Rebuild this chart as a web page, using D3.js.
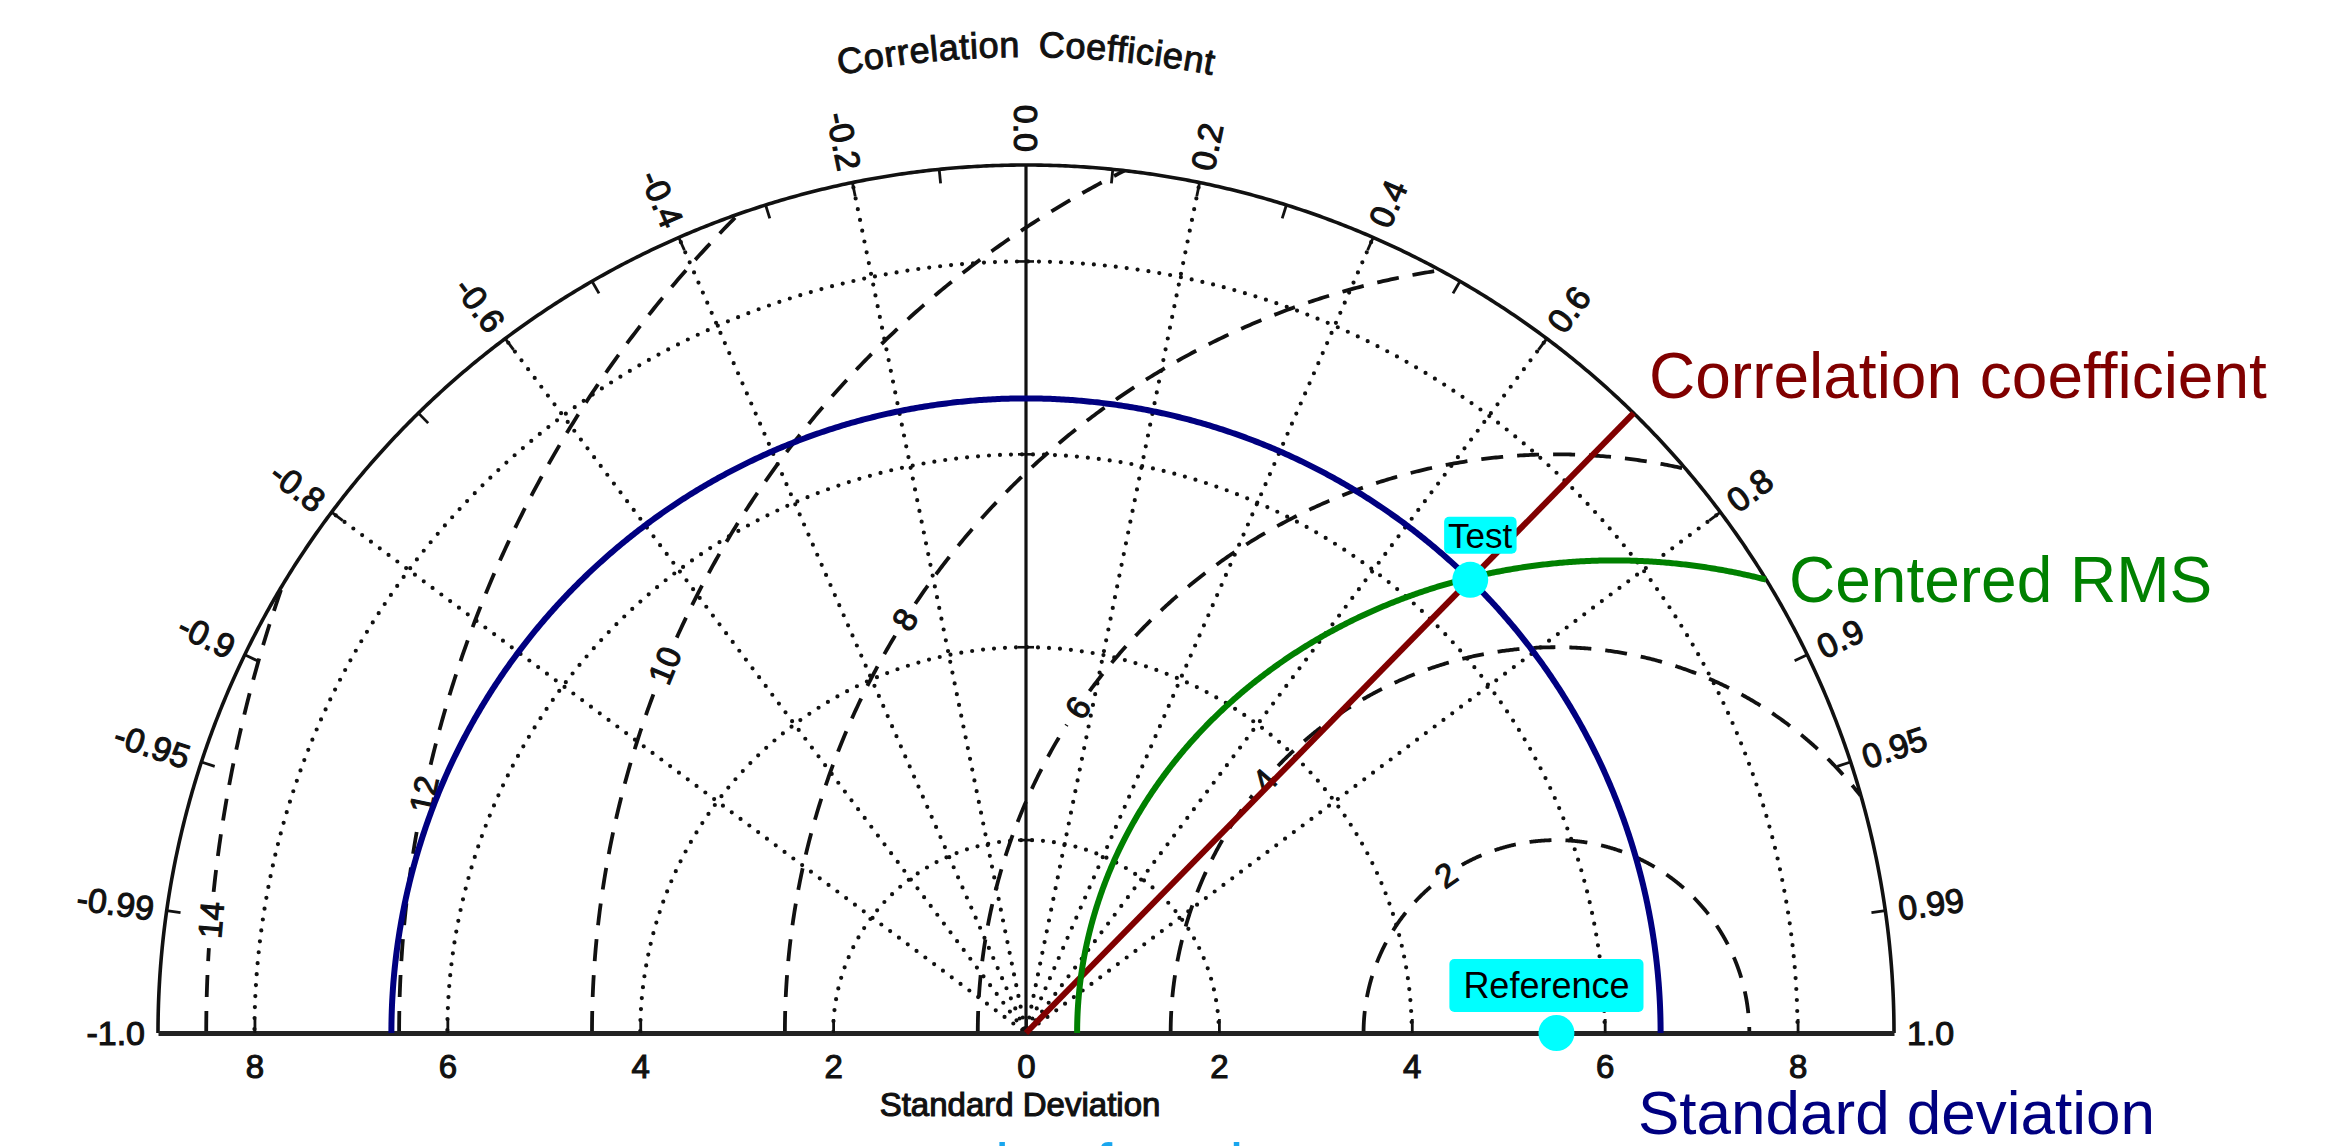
<!DOCTYPE html>
<html><head><meta charset="utf-8">
<script src="https://cdn.jsdelivr.net/npm/d3@7/dist/d3.min.js"></script>
<style>
html,body{margin:0;padding:0;background:#fff;overflow:hidden;}
svg{display:block;}
</style></head>
<body>
<svg id="chart" width="2330" height="1146"></svg>
<script>
// ---------------- data ----------------
const maxStd = 9;
const stdTickValues = [-8, -6, -4, -2, 0, 2, 4, 6, 8];
const stdTickLabels = ["8", "6", "4", "2", "0", "2", "4", "6", "8"];
const stdArcLevels = [2, 4, 6, 8];
const corrLabelValues = [-1.0, -0.99, -0.95, -0.9, -0.8, -0.6, -0.4, -0.2, 0.0, 0.2, 0.4, 0.6, 0.8, 0.9, 0.95, 0.99, 1.0];
const corrLabelTexts = ["-1.0", "-0.99", "-0.95", "-0.9", "-0.8", "-0.6", "-0.4", "-0.2", "0.0", "0.2", "0.4", "0.6", "0.8", "0.9", "0.95", "0.99", "1.0"];
const corrMinorTicks = [-0.7, -0.5, -0.3, -0.1, 0.1, 0.3, 0.5, 0.7];
const corrRadials = [-0.8, -0.6, -0.4, -0.2, 0.2, 0.4, 0.6, 0.8];
const rmsLevels = [2, 4, 6, 8, 10, 12, 14];
const rmsLabelTexts = ["2", "4", "6", "8", "10", "12", "14"];
const rmsLabelAngles = [55, 40.9, 34.2, 32.4, 22.4, 11.9, 4.8];
const refStd = 5.5;
const testStd = 6.58;
const testCorr = 0.7;
const rmsAnnotCenter = 6.1;
const rmsAnnotRx = 5.57;
const rmsAnnotRy = 4.9;

// ---------------- layout ----------------
const cx = 1026, cy = 1033, R = 868;
const k = R / maxStd;
const x = d3.scaleLinear().domain([-maxStd, maxStd]).range([cx - R, cx + R]);
const y = d3.scaleLinear().domain([0, maxStd]).range([cy, cy - R]);
const svg = d3.select("#chart");
const FONT = "'Liberation Sans', Arial, Helvetica, sans-serif";
const INK = "#111";
const toRad = Math.PI / 180;
const line = d3.line().x(d => x(d[0])).y(d => y(d[1]));
function polar(s, c) { const t = Math.acos(c); return [s * Math.cos(t), s * Math.sin(t)]; }
function circlePts(r, a0, a1, ox, step) {
  const pts = []; const n = Math.ceil(Math.abs(a1 - a0) / step);
  for (let i = 0; i <= n; i++) { const a = (a0 + (a1 - a0) * i / n) * toRad; pts.push([ox + r * Math.cos(a), r * Math.sin(a)]); }
  return pts;
}
function heavy(sel, w) { return sel.attr("font-family", FONT).attr("fill", INK).attr("stroke", INK).attr("stroke-width", w); }

const grid = svg.append("g");

// dotted std arcs
grid.selectAll(".stdArc").data(stdArcLevels).join("path")
  .attr("d", r => line(circlePts(r, 0, 180, 0, 0.25)))
  .attr("fill", "none").attr("stroke", INK).attr("stroke-width", 4.2)
  .attr("stroke-dasharray", "0 11").attr("stroke-linecap", "round");

// dotted correlation radials
grid.selectAll(".rad").data(corrRadials).join("path")
  .attr("d", c => line([polar(0.05, c), polar(maxStd, c)]))
  .attr("fill", "none").attr("stroke", INK).attr("stroke-width", 4.2)
  .attr("stroke-dasharray", "0 11").attr("stroke-linecap", "round");

// dashed centered-RMS arcs around the reference, with gaps for labels
rmsLevels.forEach((r, i) => {
  const la = rmsLabelAngles[i];
  const gapDeg = ((rmsLabelTexts[i].length * 19 + 18) / 2) / (r * k) / toRad;
  const segs = []; let cur = [];
  for (let p = 0; p <= 180; p += 0.2) {
    const px = refStd - r * Math.cos(p * toRad), py = r * Math.sin(p * toRad);
    const inside = px * px + py * py <= maxStd * maxStd && Math.abs(p - la) > gapDeg;
    if (inside) cur.push([px, py]); else if (cur.length) { segs.push(cur); cur = []; }
  }
  if (cur.length) segs.push(cur);
  segs.forEach(s => grid.append("path").attr("d", line(s)).attr("fill", "none")
    .attr("stroke", INK).attr("stroke-width", 3.8).attr("stroke-dasharray", "22 14"));
  const lp = [refStd - r * Math.cos(la * toRad), r * Math.sin(la * toRad)];
  heavy(grid.append("text"), 1.1).attr("transform", `translate(${x(lp[0])},${y(lp[1])}) rotate(${la - 90})`)
    .attr("text-anchor", "middle").attr("dominant-baseline", "central")
    .attr("font-size", 33).text(rmsLabelTexts[i]);
});

// vertical zero-correlation line
grid.append("path").attr("d", line([[0, 0], [0, maxStd]])).attr("stroke", INK).attr("stroke-width", 3.2);
grid.selectAll(".vtick").data(stdArcLevels).join("path")
  .attr("d", r => `M${x(0) - 8},${y(r)}H${x(0) + 8}`).attr("stroke", INK).attr("stroke-width", 2.6);

// outer arc
grid.append("path").attr("d", line(circlePts(maxStd, 0, 180, 0, 0.2))).attr("fill", "none")
  .attr("stroke", INK).attr("stroke-width", 3.6);

// outer ticks
const tickVals = corrLabelValues.filter(c => Math.abs(c) < 1 && c !== 0).concat(corrMinorTicks);
grid.selectAll(".otick").data(tickVals).join("path")
  .attr("d", c => line([polar(maxStd, c), polar(maxStd - 14 / k, c)]))
  .attr("stroke", INK).attr("stroke-width", 2.8);

// correlation labels
corrLabelValues.forEach((c, i) => {
  const t = Math.acos(c), rr = R + 13;
  const px = cx + rr * Math.cos(t), py = cy - rr * Math.sin(t);
  const deg = t / toRad;
  const pos = c > 0;
  heavy(grid.append("text"), 1.1).attr("transform", `translate(${px},${py}) rotate(${pos ? -deg : 180 - deg})`)
    .attr("text-anchor", pos ? "start" : "end").attr("dominant-baseline", "central")
    .attr("font-size", 34).text(corrLabelTexts[i]);
});

// title along an arc
const rT = 976;
svg.append("defs").append("path").attr("id", "titleArc")
  .attr("d", `M${cx + rT * Math.cos(130 * toRad)},${cy - rT * Math.sin(130 * toRad)} A${rT},${rT} 0 0 1 ${cx + rT * Math.cos(50 * toRad)},${cy - rT * Math.sin(50 * toRad)}`);
heavy(svg.append("text"), 1.0).attr("font-size", 36).attr("letter-spacing", 0.5).attr("word-spacing", 8)
  .append("textPath").attr("href", "#titleArc").attr("startOffset", "50%").attr("text-anchor", "middle")
  .text("Correlation Coefficient");

// standard-deviation axis
const axis = d3.axisBottom(x).tickValues(stdTickValues).tickFormat((d, i) => stdTickLabels[i])
  .tickSizeInner(-14).tickSizeOuter(0).tickPadding(22);
const ax = svg.append("g").attr("transform", `translate(0,${cy})`).call(axis);
ax.select(".domain").attr("stroke", "#222").attr("stroke-width", 5);
ax.selectAll(".tick line").attr("stroke", INK).attr("stroke-width", 2.8);
heavy(ax.selectAll(".tick text"), 1.1).attr("font-size", 33);
heavy(svg.append("text"), 1.1).attr("x", x(0) - 6).attr("y", 1116).attr("text-anchor", "middle")
  .attr("font-size", 33).text("Standard Deviation");

// ---------------- annotations ----------------
const ann = svg.append("g");
// std circle through the test point (blue)
ann.append("path").attr("d", line(circlePts(testStd, 0, 180, 0, 0.2))).attr("fill", "none")
  .attr("stroke", "#000080").attr("stroke-width", 6);
// correlation line (red)
ann.append("path").attr("d", line([[0, 0], polar(maxStd, testCorr)])).attr("fill", "none")
  .attr("stroke", "#800000").attr("stroke-width", 6);
// centered RMS arc (green)
const gpts = [];
for (let p = 180; p >= 0; p -= 0.2) {
  const px = rmsAnnotCenter + rmsAnnotRx * Math.cos(p * toRad), py = rmsAnnotRy * Math.sin(p * toRad);
  if (px * px + py * py > maxStd * maxStd) break;
  gpts.push([px, py]);
}
ann.append("path").attr("d", line(gpts)).attr("fill", "none").attr("stroke", "#008000").attr("stroke-width", 6);

// points with labels
const testPt = polar(testStd, testCorr);
const points = [
  { name: "Test", p: testPt, dx: 10, dy: -32, fs: 35, padX: 4, padY: -1 },
  { name: "Reference", p: [refStd, 0], dx: -10, dy: -35, fs: 36, padX: 14, padY: 6 }
];
points.forEach(d => {
  ann.append("circle").attr("cx", x(d.p[0])).attr("cy", y(d.p[1])).attr("r", 18).attr("fill", "#00ffff");
  const gL = ann.append("g");
  const rect = gL.append("rect").attr("fill", "#00ffff").attr("rx", 5);
  const t = gL.append("text").attr("x", x(d.p[0]) + d.dx).attr("y", y(d.p[1]) + d.dy)
    .attr("text-anchor", "middle").attr("font-family", FONT).attr("font-size", d.fs).attr("fill", "#000").text(d.name);
  const b = t.node().getBBox();
  rect.attr("x", b.x - d.padX).attr("y", b.y - d.padY).attr("width", b.width + 2 * d.padX).attr("height", b.height + 2 * d.padY);
});

// annotation labels
ann.append("text").attr("x", 1649).attr("y", 398).attr("font-family", FONT).attr("font-size", 64)
  .attr("fill", "#800000").text("Correlation coefficient");
ann.append("text").attr("x", 1789).attr("y", 602).attr("font-family", FONT).attr("font-size", 64)
  .attr("fill", "#008000").text("Centered RMS");
ann.append("text").attr("x", 1638).attr("y", 1134).attr("font-family", FONT).attr("font-size", 62)
  .attr("fill", "#000080").text("Standard deviation");
ann.append("text").attr("x", 940).attr("y", 1186).attr("font-family", FONT).attr("font-size", 62)
  .attr("fill", "#19a6ee").text("role of each");
</script>
</body></html>
